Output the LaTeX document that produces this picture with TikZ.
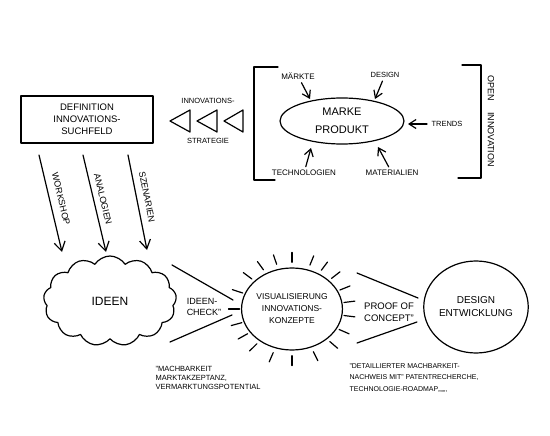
\documentclass[tikz,border=0pt]{standalone}
\usepackage{fontspec}
\setmainfont{Liberation Sans}
\usetikzlibrary{shapes.geometric,shapes.symbols,arrows.meta}
\newcommand{\fsz}[2]{\fontsize{#1}{#2}\selectfont}
\begin{document}
\begin{tikzpicture}[x=1pt,y=-1pt,line width=1.2pt,line cap=round,line join=round,
  arr/.style={-{Straight Barb[length=7pt,width=9pt]}},
  bigarr/.style={-{Straight Barb[length=9pt,width=11pt]}},
  lbl/.style={inner sep=1pt,font=\fsz{7.5}{9}},
  note/.style={inner sep=0pt,anchor=west,font=\fsz{7.5}{9}},
  ell/.style={draw,ellipse,inner sep=0pt}]
\useasboundingbox (0,0) rectangle (550,436);

% definition box
\node[draw,minimum width=132pt,minimum height=47pt,align=center,font=\fsz{9.5}{12}] (def) at (87,119.5) {DEFINITION\\INNOVATIONS-\\SUCHFELD};

% strategy triangles
\node[lbl] (inno) at (208,101) {INNOVATIONS-};
\node[lbl] (strat) at (208,141) {STRATEGIE};
\draw (190,110) -- (170,121) -- (190,132) -- cycle;
\draw (217,110) -- (197,121) -- (217,132) -- cycle;
\draw (243,110) -- (224,121) -- (243,132) -- cycle;

% brackets
\draw (278,67) -- (254,67) -- (254,180) -- (275,180);
\draw (462,65) -- (481,65) -- (481,178) -- (458,178);
\node[rotate=-90,inner sep=0pt,font=\fsz{9}{11}] (oi) at (491,121) {OPEN\hspace{1.3em}INNOVATION};

% marke produkt
\node[ell,minimum width=124pt,minimum height=46pt,align=center,font=\fsz{11}{18}] (prod) at (342,121) {MARKE\\PRODUKT};
\node[lbl,font=\fsz{8}{9}] (markte) at (298,76) {MÄRKTE};
\node[lbl] (design) at (385,75) {DESIGN};
\node[lbl] (trends) at (447,124) {TRENDS};
\node[lbl,font=\fsz{8}{9}] (tech) at (304,173) {TECHNOLOGIEN};
\node[lbl,font=\fsz{8}{9}] (mat) at (392,173) {MATERIALIEN};
\coordinate (pm) at (310,99);
\coordinate (pd) at (375,99);
\coordinate (pt) at (408,124);
\coordinate (ptc) at (311,148);
\coordinate (pma) at (378,147);
\draw[arr,shorten <=2pt] (markte) -- (pm);
\draw[arr,shorten <=2pt] (design) -- (pd);
\draw[arr,shorten <=3pt] (trends) -- (pt);
\draw[arr,shorten <=2pt] (tech) -- (ptc);
\draw[arr,shorten <=2pt] (mat) -- (pma);

% method arrows
\coordinate (w1) at (39,155); \coordinate (w2) at (62,252);
\coordinate (a1) at (83,155); \coordinate (a2) at (106,252);
\coordinate (s1) at (128,155); \coordinate (s2) at (147,250);
\draw[bigarr] (w1) -- (w2);
\draw[bigarr] (a1) -- (a2);
\draw[bigarr] (s1) -- (s2);
\node[rotate=-76.7,inner sep=0pt,font=\fsz{9}{11}] (ws) at (61,199) {WORKSHOP};
\node[rotate=-76.7,inner sep=0pt,font=\fsz{9}{11}] (an) at (103,199) {ANALOGIEN};
\node[rotate=-78.7,inner sep=0pt,font=\fsz{9}{11}] (sz) at (147,197) {SZENARIEN};

% ideen cloud
\node[draw,cloud,cloud puffs=13,cloud puff arc=115,aspect=1.45,minimum width=133pt,minimum height=90pt,font=\fsz{12}{14}] (ideen) at (110,301) {IDEEN};

% funnel 1
\coordinate (f1a) at (172,265); \coordinate (f1b) at (233,300);
\coordinate (f1c) at (170,342); \coordinate (f1d) at (232,315);
\draw (f1a) -- (f1b);
\draw (f1c) -- (f1d);
\node[inner sep=0pt,align=left,font=\fsz{9}{11}] (check) at (204,307) {IDEEN-\\CHECK"};

% sun
\node[ell,minimum width=92pt,minimum height=82pt,align=center,font=\fsz{8.5}{12}] (sun) at (292,309) {VISUALISIERUNG\\INNOVATIONS-\\KONZEPTE};
\foreach \a in {8,24,41,56,70,90,107,123,140,160,180,197,212,228,249,270,294,316,334,352}
  \draw ({292+1.14*46*cos(\a)},{309-1.14*41*sin(\a)}) -- ({292+1.38*46*cos(\a)},{309-1.38*41*sin(\a)});

% funnel 2
\coordinate (f2a) at (357,273); \coordinate (f2b) at (418,298);
\coordinate (f2c) at (357,343); \coordinate (f2d) at (417,322);
\draw (f2a) -- (f2b);
\draw (f2c) -- (f2d);
\node[inner sep=0pt,align=left,font=\fsz{9.5}{12}] (poc) at (389,312) {PROOF OF\\CONCEPT"};

% design entwicklung
\node[ell,minimum width=102pt,minimum height=92pt,align=center,font=\fsz{10}{13}] (des) at (476,307) {DESIGN\\ENTWICKLUNG};

% notes
\node[note,align=left] (n1) at (155,378) {"MACHBARKEIT\\MARKTAKZEPTANZ,\\VERMARKTUNGSPOTENTIAL};
\node[note,align=left,font=\fsz{7}{11.5}] (n2) at (349,378) {"DETAILLIERTER MACHBARKEIT-\\NACHWEIS MIT" PATENTRECHERCHE,\\TECHNOLOGIE-ROADMAP,,,,,,,};
\end{tikzpicture}
\end{document}
